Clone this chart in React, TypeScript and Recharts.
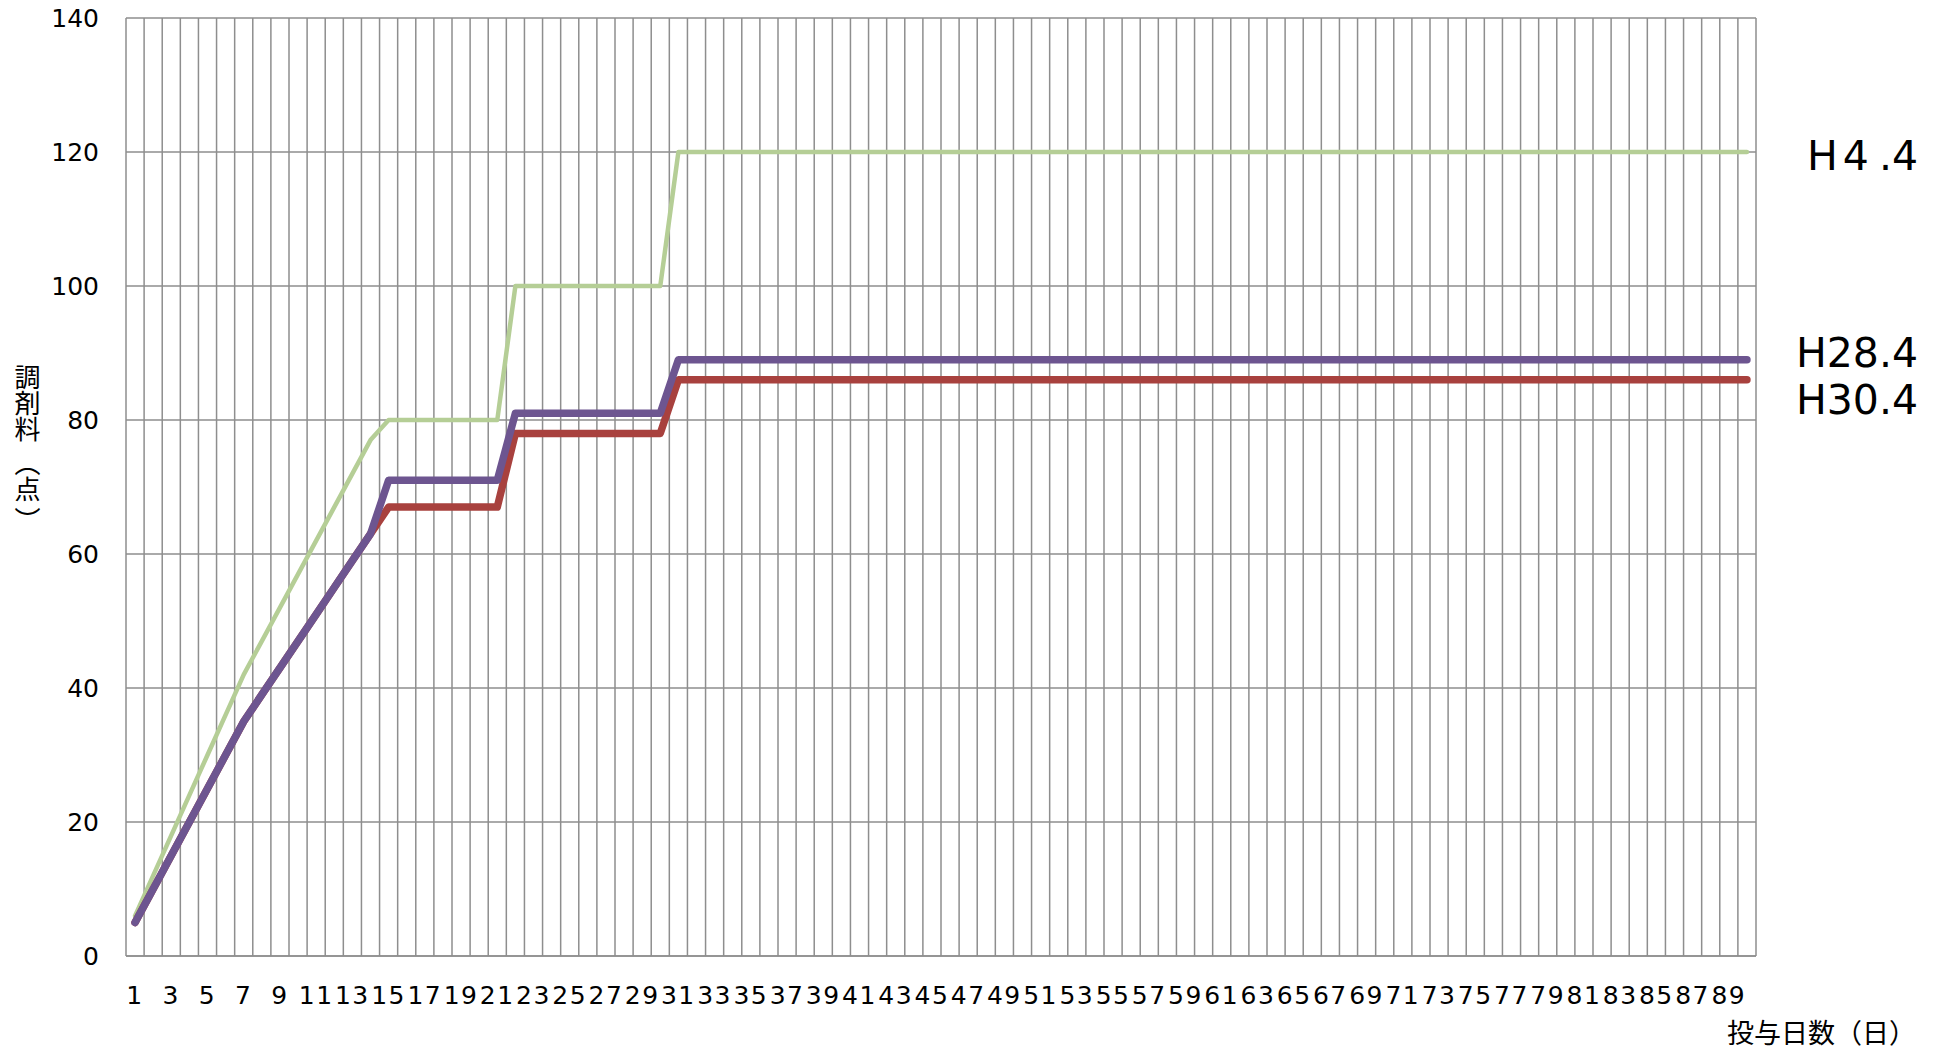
import React from "react";
import { LineChart, Line, XAxis, YAxis, CartesianGrid, LabelList } from "recharts";

document.body.style.margin = "0";
document.body.style.overflow = "hidden";

// 投与日数 1..90
const days = Array.from({ length: 90 }, (_, i) => i + 1);

const xTicks = [
  1, 3, 5, 7, 9, 11, 13, 15, 17, 19, 21, 23, 25, 27, 29, 31, 33, 35, 37, 39, 41, 43, 45,
  47, 49, 51, 53, 55, 57, 59, 61, 63, 65, 67, 69, 71, 73, 75, 77, 79, 81, 83, 85, 87, 89,
];
const yTicks = [0, 20, 40, 60, 80, 100, 120, 140];

// 調剤料（点） H4.4
const h4 = [
  6, 12, 18, 24, 30, 36, 42, 47, 52, 57, 62, 67, 72, 77,
  80, 80, 80, 80, 80, 80, 80,
  100, 100, 100, 100, 100, 100, 100, 100, 100,
  120, 120, 120, 120, 120, 120, 120, 120, 120, 120,
  120, 120, 120, 120, 120, 120, 120, 120, 120, 120,
  120, 120, 120, 120, 120, 120, 120, 120, 120, 120,
  120, 120, 120, 120, 120, 120, 120, 120, 120, 120,
  120, 120, 120, 120, 120, 120, 120, 120, 120, 120,
  120, 120, 120, 120, 120, 120, 120, 120, 120, 120,
];

// H28.4
const h28 = [
  5, 10, 15, 20, 25, 30, 35, 39, 43, 47, 51, 55, 59, 63,
  71, 71, 71, 71, 71, 71, 71,
  81, 81, 81, 81, 81, 81, 81, 81, 81,
  89, 89, 89, 89, 89, 89, 89, 89, 89, 89,
  89, 89, 89, 89, 89, 89, 89, 89, 89, 89,
  89, 89, 89, 89, 89, 89, 89, 89, 89, 89,
  89, 89, 89, 89, 89, 89, 89, 89, 89, 89,
  89, 89, 89, 89, 89, 89, 89, 89, 89, 89,
  89, 89, 89, 89, 89, 89, 89, 89, 89, 89,
];

// H30.4
const h30 = [
  5, 10, 15, 20, 25, 30, 35, 39, 43, 47, 51, 55, 59, 63,
  67, 67, 67, 67, 67, 67, 67,
  78, 78, 78, 78, 78, 78, 78, 78, 78,
  86, 86, 86, 86, 86, 86, 86, 86, 86, 86,
  86, 86, 86, 86, 86, 86, 86, 86, 86, 86,
  86, 86, 86, 86, 86, 86, 86, 86, 86, 86,
  86, 86, 86, 86, 86, 86, 86, 86, 86, 86,
  86, 86, 86, 86, 86, 86, 86, 86, 86, 86,
  86, 86, 86, 86, 86, 86, 86, 86, 86, 86,
];

const data = days.map((day, i) => ({ day, h4: h4[i], h28: h28[i], h30: h30[i] }));

const GRID = "#8E8E8E";
const LAST = days.length - 1;

function endLabel(parts: React.ReactNode, dy: number) {
  return (props: any) => {
    if (props.index !== LAST) return null;
    const y = props.y ?? props.viewBox?.y;
    return (
      <text x={1918} y={y + dy} textAnchor="end" fontSize={41} fill="#000" fontFamily="DejaVu Sans">
        {parts}
      </text>
    );
  };
}

export default function App() {
  return (
    <div style={{ position: "relative", width: 1939, height: 1049, background: "#fff" }}>
      <LineChart
        width={1939}
        height={1049}
        data={data}
        margin={{ top: 18, right: 183, bottom: 0, left: 0 }}
        style={{ fontFamily: "DejaVu Sans" }}
      >
        <CartesianGrid
          stroke={GRID}
          strokeWidth={1.5}
          verticalCoordinatesGenerator={({ offset }: any) => {
            const pts: number[] = [];
            for (let i = 0; i <= days.length; i++) {
              pts.push(offset.left + (offset.width * i) / days.length);
            }
            return pts;
          }}
        />
        <XAxis
          dataKey="day"
          type="number"
          domain={[0.5, 90.5]}
          ticks={xTicks}
          interval={0}
          height={93}
          tickLine={false}
          tickSize={0}
          tickMargin={30}
          axisLine={{ stroke: GRID, strokeWidth: 1.5 }}
          tick={{ fill: "#000", fontSize: 25, letterSpacing: 1.5 }}
        />
        <YAxis
          domain={[0, 140]}
          ticks={yTicks}
          interval={0}
          width={126}
          tickLine={false}
          tickSize={0}
          tickMargin={27}
          axisLine={false}
          tick={{ fill: "#000", fontSize: 25 }}
        />
        <Line
          dataKey="h4"
          stroke="#B5CE96"
          strokeWidth={4.5}
          dot={false}
          strokeLinecap="round"
          strokeLinejoin="round"
          isAnimationActive={false}
        >
          <LabelList
            dataKey="h4"
            content={endLabel(
              <>
                <tspan>H</tspan>
                <tspan dx={5}>4</tspan>
                <tspan dx={10}>.4</tspan>
              </>,
              18
            )}
          />
        </Line>
        <Line
          dataKey="h30"
          stroke="#A8413E"
          strokeWidth={7.5}
          dot={false}
          strokeLinecap="round"
          strokeLinejoin="round"
          isAnimationActive={false}
        >
          <LabelList dataKey="h30" content={endLabel("H30.4", 34)} />
        </Line>
        <Line
          dataKey="h28"
          stroke="#6D5590"
          strokeWidth={7.5}
          dot={false}
          strokeLinecap="round"
          strokeLinejoin="round"
          isAnimationActive={false}
        >
          <LabelList dataKey="h28" content={endLabel("H28.4", 7)} />
        </Line>
      </LineChart>
      <div
        style={{
          position: "absolute",
          left: 14,
          top: 364,
          writingMode: "vertical-rl",
          fontFamily: "Noto Sans CJK JP",
          fontSize: 26,
          lineHeight: "26px",
          color: "#000",
          whiteSpace: "nowrap",
        }}
      >
        調剤料
        <span style={{ position: "relative", top: 8 }}>
          （点<span style={{ position: "relative", top: 5 }}>）</span>
        </span>
      </div>
      <div
        style={{
          position: "absolute",
          right: 23,
          top: 1018,
          fontFamily: "Noto Sans CJK JP",
          fontSize: 27,
          lineHeight: "27px",
          color: "#000",
          whiteSpace: "nowrap",
        }}
      >
        投与日数（日）
      </div>
    </div>
  );
}
